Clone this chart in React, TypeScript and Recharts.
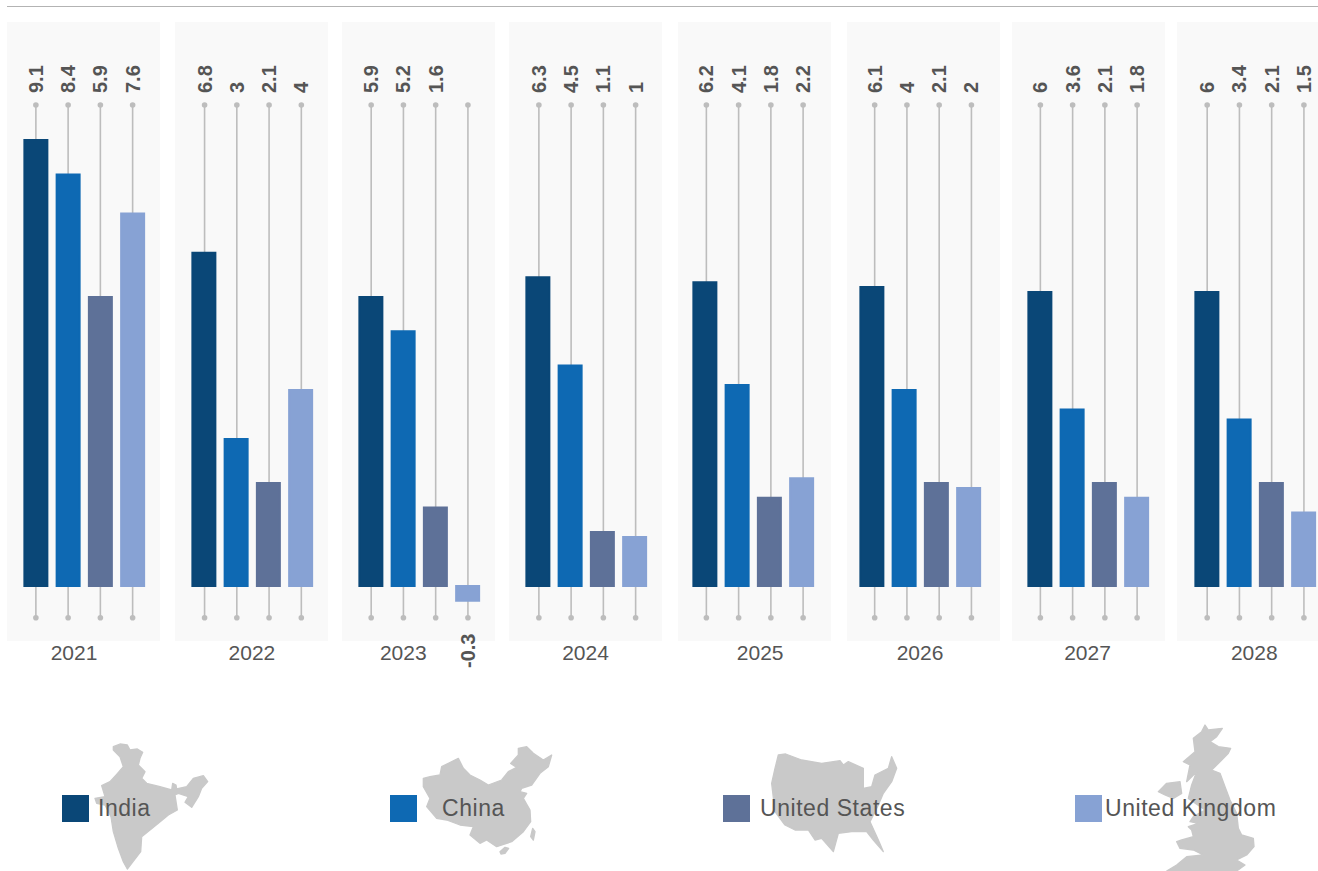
import React from "react";
import { BarChart, Bar, XAxis, YAxis, Cell, LabelList } from "recharts";

const years = ["2021", "2022", "2023", "2024", "2025", "2026", "2027", "2028"];
const countries = ["India", "China", "United States", "United Kingdom"];
const india = [9.1, 6.8, 5.9, 6.3, 6.2, 6.1, 6, 6];
const china = [8.4, 3, 5.2, 4.5, 4.1, 4, 3.6, 3.4];
const unitedStates = [5.9, 2.1, 1.6, 1.1, 1.8, 2.1, 2.1, 2.1];
const unitedKingdom = [7.6, 4, -0.3, 1, 2.2, 2, 1.8, 1.5];
const colors = ["#0a4777", "#0e69b3", "#5e7198", "#87a2d4"];

// layout
const panelLeft = [7, 175, 342, 509, 678, 847, 1012, 1177];
const firstBarLeft = [23, 190.6, 357.7, 525, 691.8, 859, 1026.5, 1193.7];
const stemShift = [0, 0.7, 0.3, 1, 1.5, 2.8, 0.5, 0.3];
const yearCenter = [74, 251.5, 403, 585.5, 760, 920, 1087, 1254];
const swatchLeft = [62, 390, 723, 1075];
const legendTextLeft = [98, 442, 760, 1105];

const FONT = '"Liberation Sans", Arial, sans-serif';
const TEXT = "#555555";
const STEM = "#bdbdbd";

const mapPoints: Record<string, number[][][]> = {
  India: [[[190,95],[210,87],[232,90],[240,105],[262,102],[278,112],[270,130],[265,150],[285,170],[275,190],[290,205],[330,215],[365,225],[368,205],[378,210],[380,222],[410,215],[430,190],[460,182],[473,200],[455,220],[445,245],[425,277],[405,262],[415,245],[385,235],[375,240],[382,285],[355,300],[325,325],[275,365],[272,410],[245,445],[232,462],[220,440],[205,400],[190,350],[183,305],[165,270],[140,265],[135,250],[165,245],[155,212],[180,200],[200,178],[220,155],[210,125],[190,105]]],
  China: [[[130,145],[150,140],[180,135],[185,110],[205,100],[235,85],[250,115],[270,135],[300,150],[325,165],[365,150],[385,125],[410,112],[392,100],[415,75],[415,55],[440,50],[460,70],[490,90],[515,75],[505,110],[480,130],[455,165],[425,175],[420,185],[440,190],[430,205],[450,240],[452,275],[430,305],[395,335],[350,350],[320,330],[300,340],[270,315],[280,290],[240,285],[200,270],[170,265],[140,230],[150,205],[130,170]],[[360,365],[375,352],[386,355],[375,370],[363,372]],[[458,295],[465,305],[460,330],[452,320]]],
  "United States": [[[190,45],[212,42],[260,60],[320,70],[375,62],[385,75],[400,65],[445,85],[445,145],[470,140],[480,105],[520,85],[530,50],[545,85],[530,125],[505,160],[490,195],[465,245],[490,300],[505,335],[475,300],[455,275],[410,275],[370,280],[355,335],[320,295],[300,300],[280,270],[240,270],[210,255],[180,215],[170,130],[180,85]]],
  "United Kingdom": [[[435,30],[445,45],[487,40],[470,65],[450,80],[475,95],[512,100],[505,115],[480,140],[455,165],[480,175],[495,215],[510,255],[530,295],[535,340],[545,360],[580,370],[582,395],[560,420],[530,435],[555,450],[530,468],[320,468],[350,450],[380,425],[430,420],[400,405],[360,400],[350,380],[365,375],[400,365],[395,345],[385,335],[415,325],[390,320],[400,305],[435,285],[385,250],[395,210],[410,170],[380,200],[390,150],[370,140],[405,110],[400,70],[425,50]],[[295,230],[320,205],[360,200],[365,235],[340,250],[315,240]]],
};
const mapBoxes: Record<string, number[]> = {
  India: [50, 715, 180, 156],
  China: [380, 730, 190, 141],
  "United States": [715, 740, 200, 120],
  "United Kingdom": [1060, 715, 230, 156],
};

function YearChart({ index }: { index: number }) {
  const data = countries.map((country, i) => ({
    country,
    value: [india, china, unitedStates, unitedKingdom][i][index],
  }));
  const chartLeft = firstBarLeft[index] - 12;
  const chartWidth = 175;
  const marginLeft = 8.375;
  const shift = stemShift[index];

  const Stem = (p: any) => {
    const cx = p.x + p.width / 2 + shift;
    return (
      <g>
        <line x1={cx} x2={cx} y1={p.y} y2={p.y + p.height} stroke={STEM} strokeWidth={1.6} />
        <circle cx={cx} cy={p.y} r={2.8} fill={STEM} />
        <circle cx={cx} cy={p.y + p.height} r={2.8} fill={STEM} />
      </g>
    );
  };

  const ValueLabel = (p: any) => {
    const bx = p.x + p.width / 2 + shift + 7;
    const by = p.value < 0 ? 668 : 93;
    return (
      <text
        x={bx}
        y={by}
        transform={`rotate(-90 ${bx} ${by})`}
        textAnchor="start"
        fontFamily={FONT}
        fontWeight={700}
        fontSize={20}
        fill={TEXT}
      >
        {p.value}
      </text>
    );
  };

  return (
    <div style={{ position: "absolute", left: chartLeft, top: 0 }}>
      <BarChart
        width={chartWidth}
        height={700}
        data={data}
        barSize={23}
        margin={{ top: 105, left: marginLeft, right: chartWidth - marginLeft - 129, bottom: 42.3 }}
        style={{ overflow: "visible" }}
      >
        <XAxis
          dataKey="country"
          tick={false}
          tickLine={false}
          axisLine={false}
          height={40}
          label={{
            content: () => (
              <text
                x={yearCenter[index] - chartLeft}
                y={660}
                textAnchor="middle"
                fontFamily={FONT}
                fontSize={21}
                fill={TEXT}
              >
                {years[index]}
              </text>
            ),
          }}
        />
        <YAxis hide domain={[-0.647, 9.816]} allowDataOverflow />
        <Bar dataKey="value" isAnimationActive={false} background={Stem as any} strokeWidth={2}>
          {data.map((d, i) => (
            <Cell key={d.country} fill={colors[i]} stroke={colors[i]} strokeWidth={2} />
          ))}
          <LabelList dataKey="value" content={ValueLabel as any} />
        </Bar>
      </BarChart>
    </div>
  );
}

function LegendMap({ country }: { country: string }) {
  const [x, y, w, h] = mapBoxes[country];
  return (
    <svg
      style={{ position: "absolute", left: x, top: y }}
      width={w}
      height={h}
      viewBox={`0 0 ${w * 3} ${h * 3}`}
    >
      {mapPoints[country].map((pts, i) => (
        <polygon
          key={i}
          points={pts.map((q) => q.join(",")).join(" ")}
          fill="#c9c9c9"
          stroke="#c9c9c9"
          strokeWidth={4}
          strokeLinejoin="round"
        />
      ))}
    </svg>
  );
}

export default function App() {
  return (
    <div
      style={{
        position: "fixed",
        left: 0,
        top: 0,
        width: 1318,
        height: 871,
        overflow: "hidden",
        background: "#fff",
      }}
    >
      <div style={{ position: "absolute", left: 7, top: 6, width: 1311, height: 1, background: "#b3b3b3" }} />
      {years.map((year, i) => (
        <div
          key={year}
          style={{ position: "absolute", left: panelLeft[i], top: 22, width: 153, height: 619, background: "#f9f9f9" }}
        />
      ))}
      {years.map((year, i) => (
        <YearChart key={year} index={i} />
      ))}
      {countries.map((c) => (
        <LegendMap key={c} country={c} />
      ))}
      {countries.map((c, i) => (
        <React.Fragment key={c}>
          <div
            style={{ position: "absolute", left: swatchLeft[i], top: 795, width: 27, height: 27, background: colors[i] }}
          />
          <div
            style={{
              position: "absolute",
              left: legendTextLeft[i],
              top: 794,
              lineHeight: "28px",
              fontFamily: FONT,
              fontSize: 23,
              letterSpacing: 0.55,
              color: TEXT,
              whiteSpace: "nowrap",
            }}
          >
            {c}
          </div>
        </React.Fragment>
      ))}
    </div>
  );
}
